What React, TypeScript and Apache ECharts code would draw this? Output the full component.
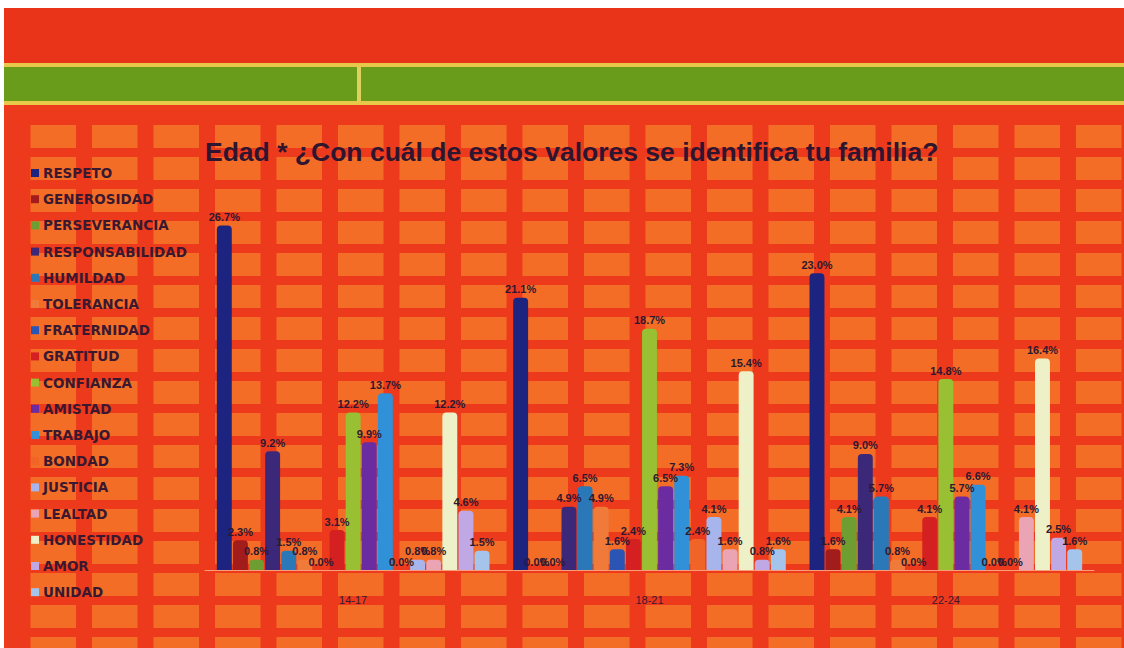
import React, { useEffect, useRef } from "react";
import * as echarts from "echarts";

const categories = ["14-17", "18-21", "22-24"];
const seriesNames = [
  "RESPETO", "GENEROSIDAD", "PERSEVERANCIA", "RESPONSABILIDAD", "HUMILDAD",
  "TOLERANCIA", "FRATERNIDAD", "GRATITUD", "CONFIANZA", "AMISTAD", "TRABAJO",
  "BONDAD", "JUSTICIA", "LEALTAD", "HONESTIDAD", "AMOR", "UNIDAD",
];
const respeto = [26.7, 21.1, 23.0];
const generosidad = [2.3, 0.0, 1.6];
const perseverancia = [0.8, 0.0, 4.1];
const responsabilidad = [9.2, 4.9, 9.0];
const humildad = [1.5, 6.5, 5.7];
const tolerancia = [0.8, 4.9, 0.8];
const fraternidad = [0.0, 1.6, 0.0];
const gratitud = [3.1, 2.4, 4.1];
const confianza = [12.2, 18.7, 14.8];
const amistad = [9.9, 6.5, 5.7];
const trabajo = [13.7, 7.3, 6.6];
const bondad = [0.0, 2.4, 0.0];
const justicia = [0.8, 4.1, 0.0];
const lealtad = [0.8, 1.6, 4.1];
const honestidad = [12.2, 15.4, 16.4];
const amor = [4.6, 0.8, 2.5];
const unidad = [1.5, 1.6, 1.6];
const seriesValues = [
  respeto, generosidad, perseverancia, responsabilidad, humildad, tolerancia,
  fraternidad, gratitud, confianza, amistad, trabajo, bondad, justicia, lealtad,
  honestidad, amor, unidad,
];
const colors = [
  "#1c2480", "#a31c1c", "#6e9e32", "#3b2878", "#2a78b8", "#f07a3a",
  "#2b55b5", "#d42020", "#98c032", "#6a2ca0", "#3090d8", "#f06428",
  "#a8b4ec", "#eaa4b4", "#eef0c8", "#c0a8e4", "#a4c4ec",
];
const titleText = "Edad * ¿Con cuál de estos valores se identifica tu familia?";

function backgroundGraphics() {
  const els: any[] = [];
  els.push({ type: "rect", z: -10, shape: { x: 4, y: 8, width: 1120, height: 640 }, style: { fill: "#ee3a1c" } });
  els.push({ type: "rect", z: -9, shape: { x: 4, y: 8, width: 1120, height: 56 }, style: { fill: "#e9341a" } });
  els.push({ type: "rect", z: -9, shape: { x: 4, y: 63, width: 1120, height: 42 }, style: { fill: "#e8c84a" } });
  els.push({ type: "rect", z: -8, shape: { x: 4, y: 67, width: 1120, height: 34 }, style: { fill: "#6a9c1c" } });
  els.push({ type: "rect", z: -7, shape: { x: 357, y: 67, width: 4, height: 34 }, style: { fill: "#e0d060" } });
  for (let r = 0; r < 17; r++) {
    const y = 125 + r * 32;
    for (let c = -1; c < 17; c++) {
      const x = 92 + c * 61.5;
      els.push({
        type: "rect", z: -6,
        shape: { x: Math.max(x, 18), y, width: x < 18 ? 45.5 - (18 - x) : 45.5, height: 23 },
        style: { fill: "#f57a2a", opacity: 0.8 },
      });
    }
  }
  return els;
}

export default function App() {
  const ref = useRef<HTMLDivElement>(null);
  useEffect(() => {
    document.body.style.margin = "0";
    const chart = echarts.init(ref.current!, null, { renderer: "svg" });
    chart.setOption({
      animation: false,
      backgroundColor: "#ffffff",
      graphic: backgroundGraphics(),
      title: {
        text: titleText,
        left: 200,
        top: 133,
        textStyle: { fontFamily: "Liberation Sans", fontWeight: "bold", fontSize: 26.5, color: "#2e1530" },
      },
      legend: {
        orient: "vertical",
        left: 26,
        top: 161,
        itemWidth: 8,
        itemHeight: 8,
        itemGap: 12.2,
        icon: "rect",
        data: seriesNames,
        textStyle: { fontFamily: "DejaVu Sans", fontWeight: "bold", fontSize: 13.5, lineHeight: 13, color: "#3a1830", padding: [0, 0, 0, -1] },
      },
      grid: { left: 205, right: 30, top: 183, bottom: 78 },
      xAxis: {
        type: "category",
        data: categories,
        axisTick: { show: false },
        axisLine: { show: true, lineStyle: { color: "rgba(255,200,160,0.7)", width: 1 } },
        axisLabel: { margin: 24, fontFamily: "Liberation Sans", fontSize: 11, color: "#3a1830" },
      },
      yAxis: { type: "value", min: 0, max: 30, show: false, splitLine: { show: false } },
      series: seriesNames.map((name, i) => ({
        name,
        type: "bar",
        data: seriesValues[i],
        barGap: "8%",
        barCategoryGap: "8%",
        itemStyle: { color: colors[i], borderRadius: [4, 4, 0, 0] },
        label: {
          show: true,
          position: "top",
          distance: 3,
          formatter: (p: any) => p.value.toFixed(1) + "%",
          fontFamily: "Liberation Sans",
          fontSize: 11,
          fontWeight: "bold",
          color: "#2e1830",
        },
      })),
    });
    return () => chart.dispose();
  }, []);
  return <div ref={ref} style={{ width: 1124, height: 648 }} />;
}
